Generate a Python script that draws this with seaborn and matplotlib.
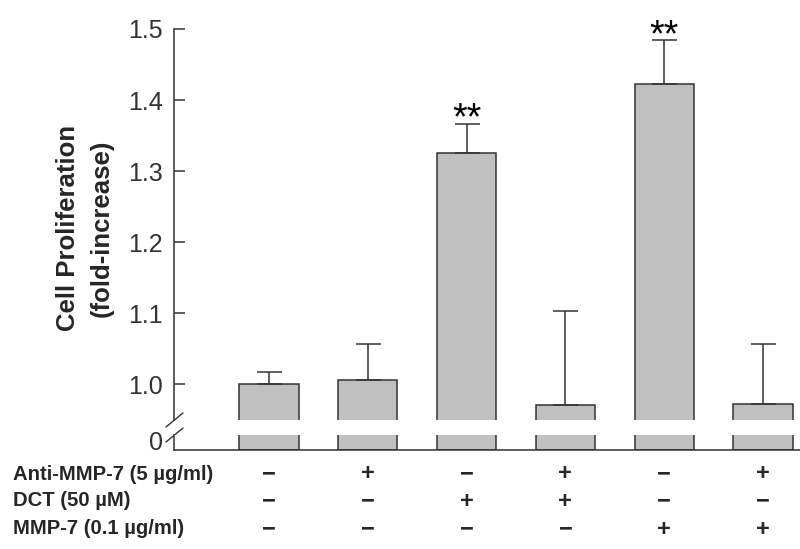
import numpy as np
import pandas as pd
import matplotlib
matplotlib.use("Agg")
import matplotlib.pyplot as plt
import matplotlib.transforms as mtransforms
import seaborn as sns

# values
conditions = ["Control", "Anti-MMP-7", "DCT", "Anti-MMP-7 + DCT", "MMP-7", "Anti-MMP-7 + MMP-7"]
fold = [1.000, 1.006, 1.325, 0.971, 1.423, 0.972]
sem = [0.017, 0.050, 0.041, 0.132, 0.061, 0.084]
stars = ["", "", "**", "", "**", ""]

row_labels = ["Anti-MMP-7 (5 \u00b5g/ml)", "DCT (50 \u00b5M)", "MMP-7 (0.1 \u00b5g/ml)"]
anti = ["\u2212", "+", "\u2212", "+", "\u2212", "+"]
dct = ["\u2212", "\u2212", "+", "+", "\u2212", "\u2212"]
mmp = ["\u2212", "\u2212", "\u2212", "\u2212", "+", "+"]
yticks = [1.0, 1.1, 1.2, 1.3, 1.4, 1.5]

sns.set_theme(style="white")
plt.rcParams["font.family"] = ["Liberation Sans", "DejaVu Sans"]

dark = "#333333"
bar_gray = "#c0c0c0"

df = pd.DataFrame({"condition": conditions, "fold": fold})

fig = plt.figure(figsize=(8, 5.49), dpi=100)
W, H = 800, 549
ax = fig.add_axes([174 / W, 1 - 420 / H, 626 / W, 391 / H])
ax_low = fig.add_axes([174 / W, 1 - 450 / H, 626 / W, 15 / H])

for a in (ax, ax_low):
    sns.barplot(data=df, x="condition", y="fold", ax=a, color=bar_gray,
                saturation=1, edgecolor=dark, linewidth=1.1, width=0.6,
                errorbar=None)
    a.set_xlim(-0.962, 5.375)
    a.set_xticks([])
    a.set_xlabel("")
    a.set_ylabel("")
    for s in a.spines.values():
        s.set_color(dark)
        s.set_linewidth(1.1)
    a.spines["top"].set_visible(False)
    a.spines["right"].set_visible(False)

# upper panel
ax.errorbar(x=np.arange(len(fold)), y=fold, yerr=[np.zeros(len(sem)), sem],
            fmt="none", ecolor=dark, elinewidth=1.1, capsize=9, capthick=1.1)
ax.set_ylim(0.9493, 1.5)
ax.set_yticks(yticks, labels=[f"{v:.1f}" for v in yticks])
ax.spines["bottom"].set_visible(False)
ax.tick_params(axis="y", direction="in", length=8, width=1.1, color=dark,
               labelsize=18, labelcolor=dark, pad=8, left=True)

for i, s in enumerate(stars):
    if s:
        ax.annotate(s, xy=(i, fold[i] + sem[i]), xytext=(0, -4),
                    textcoords="offset points", ha="center", va="baseline",
                    fontsize=27, color="black")

ax.text(-0.142, 0.49, "Cell Proliferation\n(fold-increase)", transform=ax.transAxes,
        rotation=90, ha="center", va="center", fontsize=18.5,
        fontweight="bold", linespacing=1.5, multialignment="center")

# lower panel
ax_low.set_ylim(0, 15 / 710)
ax_low.set_yticks([0], labels=["0"], va="baseline")
ax_low.tick_params(axis="y", length=0, labelsize=18, labelcolor=dark, pad=8, left=True)

# break marks
bx = [-8 / 626, 9 / 626]
ax.plot(bx, [-7 / 391, 7 / 391], transform=ax.transAxes, color=dark, lw=1, clip_on=False)
ax.plot(bx, [-22 / 391, -8 / 391], transform=ax.transAxes, color=dark, lw=1, clip_on=False)

# treatment table
trans = mtransforms.blended_transform_factory(ax.transData, fig.transFigure)
row_y = [1 - 474 / H, 1 - 501 / H, 1 - 529 / H]
for label, signs, y in zip(row_labels, [anti, dct, mmp], row_y):
    fig.text(13 / W, y, label, fontsize=14.6, fontweight="bold", ha="left", va="center")
    for i, sg in enumerate(signs):
        fig.text(i, y, sg, transform=trans, fontsize=17, fontweight="bold",
                 ha="center", va="center")

fig.savefig("out.png", dpi=100)
